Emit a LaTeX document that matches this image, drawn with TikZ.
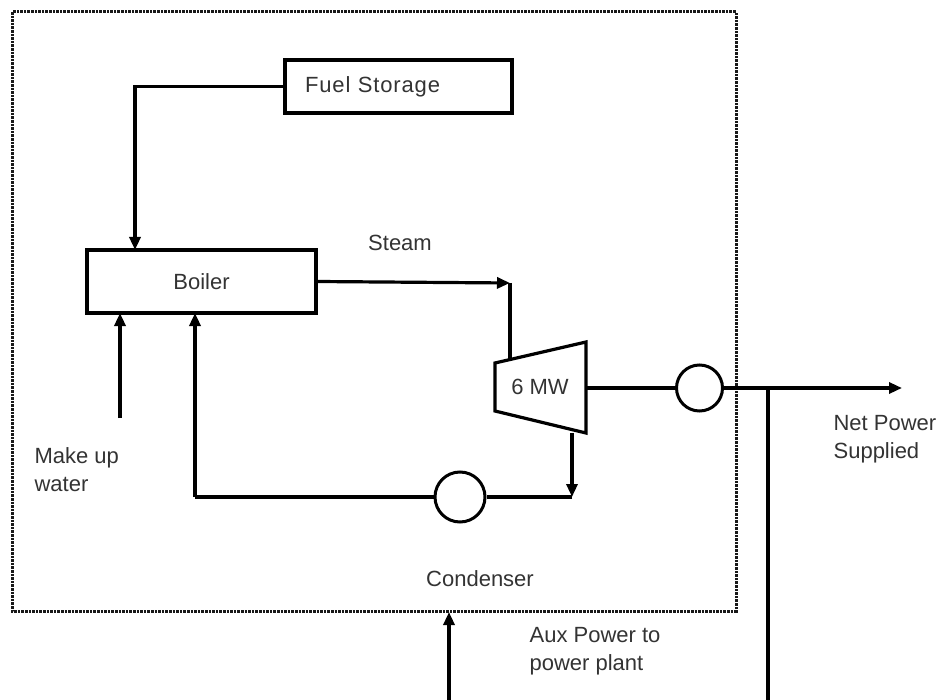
\documentclass[tikz,border=0pt]{standalone}
\usepackage{fontspec}
\setmainfont{Liberation Sans}
\usetikzlibrary{arrows.meta,calc}
\begin{document}
\begin{tikzpicture}[x=1pt,y=-1pt,
  line width=3.2pt,
  every node/.style={font=\fontsize{22}{28}\selectfont, text=black!80},
  boxnode/.style={draw=black, rectangle, inner sep=0pt, line width=3.2pt},
  circnode/.style={draw=black, circle, inner sep=0pt, line width=3pt},
  arr/.style={-{Triangle[length=13pt,width=11pt]}},
  lbl/.style={align=left, anchor=west, inner sep=0pt},
  border/.style={line width=3pt, black!90, dash pattern=on 2.6pt off 1pt}
]
\useasboundingbox (0,0) rectangle (941,700);
% system boundary
\draw[border] (12,12) rectangle (736,611);

% nodes
\node[boxnode, minimum width=227pt, minimum height=53pt, text width=187pt, align=left] (fuel) at (398.5,86.5) {\addfontfeature{LetterSpace=4}Fuel Storage};
\node[boxnode, minimum width=229pt, minimum height=63pt] (boiler) at (201.5,281.5) {Boiler};
\node[circnode, minimum size=46pt] (gen) at (699.5,388) {};
\node[circnode, minimum size=50pt] (cond) at (460,497) {};

% turbine
\coordinate (tA) at (495,363);
\coordinate (tB) at (586,342);
\coordinate (tC) at (586,433);
\coordinate (tD) at (495,411);
\draw[line join=miter] (tA) -- (tB) -- (tC) -- (tD) -- cycle;
\node (tlabel) at (540,387) {6 MW};

% helper coordinates
\coordinate (bf) at (135,250);
\coordinate (sc) at (510,283);
\coordinate (tin) at (510,359);
\coordinate (tsh) at (586,388);
\coordinate (np) at (902,388);
\coordinate (jn) at (768,388);
\coordinate (jb) at (768,700);
\coordinate (tout) at (572,433);
\coordinate (co) at (572,497);
\coordinate (rc) at (195,497);
\coordinate (rb) at (195,313);
\coordinate (mu0) at (120,418);
\coordinate (mu1) at (120,313);
\coordinate (ax0) at (449,700);
\coordinate (ax1) at (449,612);

% connectors
\draw[arr] (fuel.west) -| (bf);
\draw[arr] (boiler.east) -- (sc);
\draw (sc) -- (tin);
\draw (tsh) -- (gen.west);
\draw[arr] (gen.east) -- (np);
\draw (jn) -- (jb);
\draw[arr] (tout) -- (co);
\draw (co) -- (cond.east);
\draw (cond.west) -- (rc);
\draw[arr] (rc) -- (rb);
\draw[arr] (mu0) -- (mu1);
\draw[arr] (ax0) -- (ax1);

% labels
\node (steam) at (400,243) {Steam};
\node[lbl] (makeup) at (33,470) {Make up\\water};
\node[lbl] (netp) at (832,439) {Net Power\\Supplied};
\node (condl) at (480,579) {Condenser};
\node[lbl] (aux) at (528,651) {Aux Power to\\power plant};
\end{tikzpicture}
\end{document}
